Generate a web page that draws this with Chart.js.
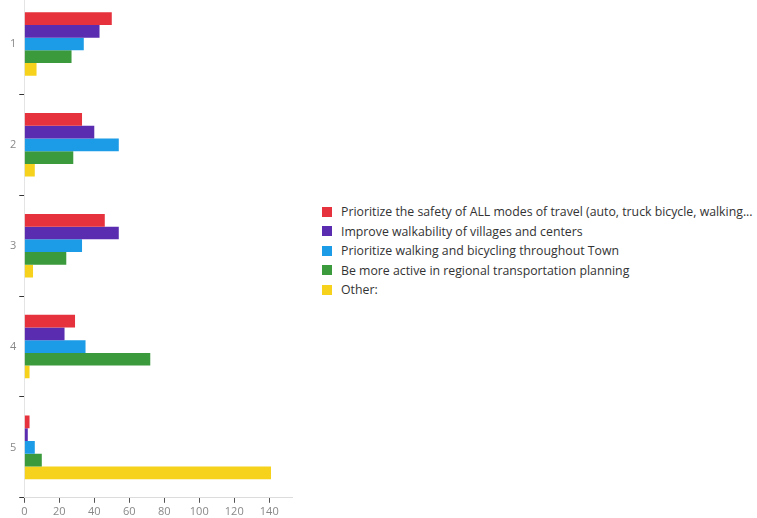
<!DOCTYPE html>
<html>
<head>
<meta charset="utf-8">
<script src="https://cdn.jsdelivr.net/npm/chart.js@4.4.1/dist/chart.umd.min.js"></script>
<style>
  html, body { margin: 0; padding: 0; background: #fff; width: 757px; height: 518px; overflow: hidden; }
  #wrap { position: absolute; left: 0; top: -16px; width: 300px; height: 536px; }
  #legend { position: absolute; left: 322px; top: 202px; font-family: "Open Sans", sans-serif; font-size: 12.3px; color: #333; white-space: nowrap; }
  #legend .row { display: flex; align-items: center; height: 19.5px; }
  #legend .box { width: 10px; height: 10px; margin-right: 9px; flex: none; }
</style>
</head>
<body>
<div id="wrap"><canvas id="c"></canvas></div>
<div id="legend"></div>
<script>
// Answer rankings (1 = top priority) and how many respondents chose each option
const categories = ['1', '2', '3', '4', '5'];
const seriesNames = [
  'Prioritize the safety of ALL modes of travel (auto, truck bicycle, walking...',
  'Improve walkability of villages and centers',
  'Prioritize walking and bicycling throughout Town',
  'Be more active in regional transportation planning',
  'Other:'
];
const safetyAll = [50, 33, 46, 29, 3];
const walkability = [43, 40, 54, 23, 2];
const walkBike = [34, 54, 33, 35, 6];
const regional = [27, 28, 24, 72, 10];
const other = [7, 6, 5, 3, 141];
const xTicks = [0, 20, 40, 60, 80, 100, 120, 140];

const seriesValues = [safetyAll, walkability, walkBike, regional, other];
const seriesColors = ['#e6323c', '#5a2db0', '#1c9be6', '#3a9a3c', '#f6d21c'];

const tickFont = { family: '"Open Sans", sans-serif', size: 11 };

const chart = new Chart(document.getElementById('c'), {
  type: 'bar',
  data: {
    labels: categories,
    datasets: seriesValues.map((vals, i) => ({
      label: seriesNames[i],
      data: vals,
      backgroundColor: seriesColors[i],
      borderWidth: 0,
      categoryPercentage: 0.63,
      barPercentage: 1
    }))
  },
  options: {
    indexAxis: 'y',
    responsive: true,
    maintainAspectRatio: false,
    animation: false,
    layout: { padding: { left: 7, right: 8, top: 0, bottom: 0 } },
    plugins: { legend: { display: false }, tooltip: { enabled: false } },
    scales: {
      x: {
        min: 0,
        max: 153,
        afterBuildTicks: (axis) => { axis.ticks = xTicks.map(v => ({ value: v })); },
        ticks: { color: '#888', font: tickFont, padding: 2, maxRotation: 0 },
        grid: { drawOnChartArea: false, drawTicks: true, tickLength: 5, tickColor: '#555' },
        border: { display: true, color: '#dcdcdc' }
      },
      y: {
        ticks: { color: '#888', font: tickFont, padding: 3 },
        grid: { drawOnChartArea: false, drawTicks: true, tickLength: 5, tickColor: '#333', offset: true },
        border: { display: true, color: '#e4e4e4' }
      }
    }
  }
});

// Legend built from the chart's own datasets
const legend = document.getElementById('legend');
chart.data.datasets.forEach(ds => {
  const row = document.createElement('div');
  row.className = 'row';
  const box = document.createElement('span');
  box.className = 'box';
  box.style.background = ds.backgroundColor;
  const txt = document.createElement('span');
  txt.textContent = ds.label;
  row.appendChild(box);
  row.appendChild(txt);
  legend.appendChild(row);
});
</script>
</body>
</html>
